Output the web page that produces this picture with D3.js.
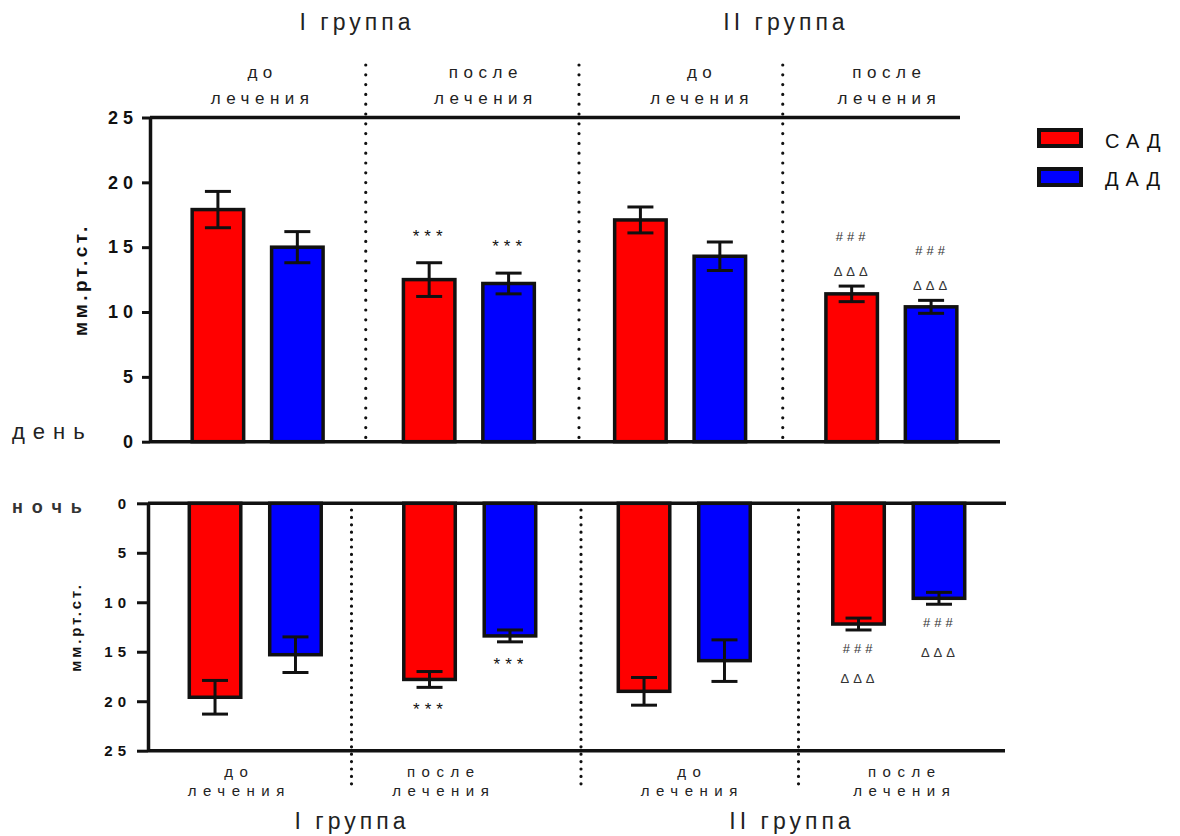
<!DOCTYPE html>
<html>
<head>
<meta charset="utf-8">
<script src="https://cdn.jsdelivr.net/npm/d3@7"></script>
<style>
  html, body { margin: 0; padding: 0; background: #fff; }
  svg { display: block; font-family: "Liberation Sans", Arial, sans-serif; }
</style>
</head>
<body>
<svg id="chart" width="1180" height="836"></svg>
<script>
// ---------------- DATA ----------------
const categoryKeys = ["I-до", "I-после", "II-до", "II-после"];
const categoryLines = [["до", "лечения"], ["после", "лечения"], ["до", "лечения"], ["после", "лечения"]];
const groupTitles = ["I группа", "II группа"];
const series = ["САД", "ДАД"];
const yTicks = [0, 5, 10, 15, 20, 25];
const yTitle = "мм.рт.ст.";
const panelNames = ["день", "ночь"];

// day (top panel)
const daySAD    = [17.9, 12.5, 17.1, 11.4];
const daySADerr = [1.4, 1.3, 1.0, 0.6];
const dayDAD    = [15.0, 12.2, 14.3, 10.4];
const dayDADerr = [1.2, 0.8, 1.1, 0.5];
const daySADsig = [[], ["***"], [], ["###", "ΔΔΔ"]];
const dayDADsig = [[], ["***"], [], ["###", "ΔΔΔ"]];

// night (bottom panel)
const nightSAD    = [19.6, 17.8, 19.0, 12.2];
const nightSADerr = [1.7, 0.8, 1.4, 0.6];
const nightDAD    = [15.3, 13.4, 15.9, 9.6];
const nightDADerr = [1.8, 0.6, 2.1, 0.6];
const nightSADsig = [[], ["***"], [], ["###", "ΔΔΔ"]];
const nightDADsig = [[], ["***"], [], ["###", "ΔΔΔ"]];

// ---------------- LAYOUT ----------------
const colors = { "САД": "#ff0000", "ДАД": "#0000ff" };
const FONT = "'Liberation Sans', Arial, sans-serif";
const svg = d3.select("#chart");

function buildRows(sad, sadErr, dad, dadErr, sadSig, dadSig) {
  const rows = [];
  categoryKeys.forEach((k, i) => {
    rows.push({ cat: k, s: "САД", v: sad[i], e: sadErr[i], sig: sadSig[i] });
    rows.push({ cat: k, s: "ДАД", v: dad[i], e: dadErr[i], sig: dadSig[i] });
  });
  return rows;
}

const panels = [
  {
    rows: buildRows(daySAD, daySADerr, dayDAD, dayDADerr, daySADsig, dayDADsig),
    down: false,
    yRange: [441.7, 117.5],
    xRange: [152, 997],
    axisX: 150,
    baseEnd: 1000, capEnd: 960,
    pairOff: 0.188, barW: 51.5,
    tickSize: 8, tickPad: 4, tickFont: 18, tickSpacing: 5,
    titleX: 80, titleFont: 19, titleSpacing: 3.5,
    dividerDx: [2.5, 4.5, -3], dividerY: [65, 441], dotGap: 9.8,
    labelDx: [5, 17, 22, -2], labelY: [78, 104], labelFont: 17, labelSpacing: 5.5,
    groupY: 30,
    groupX: [357, 786],
    sigOff: { "***": -27, "###": -50, "ΔΔΔ": -15 },
    nameY: 439, nameFont: 22, nameWeight: "normal", nameSpacing: 8
  },
  {
    rows: buildRows(nightSAD, nightSADerr, nightDAD, nightDADerr, nightSADsig, nightDADsig),
    down: true,
    yRange: [503.3, 750.7],
    xRange: [148, 1006],
    axisX: 148,
    baseEnd: 1006, capEnd: 1005,
    pairOff: 0.1875, barW: 51.5,
    tickSize: 11, tickPad: 6, tickFont: 15, tickSpacing: 5,
    titleX: 76, titleFont: 15, titleSpacing: 2.8,
    dividerDx: [-11, 4, 7], dividerY: [510, 788], dotGap: 7.4,
    labelDx: [-16, -26, 8, 6], labelY: [777, 796], labelFont: 15, labelSpacing: 6.5,
    groupY: 829,
    groupX: [352, 792],
    sigOff: { "***": 22, "###": 18, "ΔΔΔ": 48 },
    nameY: 513, nameFont: 18, nameWeight: "bold", nameSpacing: 9
  }
];

panels.forEach(P => {
  const g = svg.append("g");
  const y = d3.scaleLinear().domain([0, 25]).range(P.yRange);
  const x0 = d3.scaleBand().domain(categoryKeys).range(P.xRange);
  const bw = x0.bandwidth();
  const x1 = d3.scalePoint().domain(series).range([-P.pairOff * bw, P.pairOff * bw]);
  const cx = d => x0(d.cat) + bw / 2 + x1(d.s);

  // dotted dividers between categories
  const bounds = categoryKeys.slice(1).map((k, i) => x0(k) + P.dividerDx[i]);
  g.selectAll("line.div").data(bounds).join("line")
    .attr("x1", d => d).attr("x2", d => d)
    .attr("y1", P.dividerY[0]).attr("y2", P.dividerY[1])
    .attr("stroke", "#111").attr("stroke-width", 3.2)
    .attr("stroke-linecap", "round")
    .attr("stroke-dasharray", `0 ${P.dotGap}`);

  // horizontal frame lines
  g.append("line").attr("x1", P.axisX).attr("x2", P.baseEnd)
    .attr("y1", y(0)).attr("y2", y(0)).attr("stroke", "#111").attr("stroke-width", 3.5);
  g.append("line").attr("x1", P.axisX).attr("x2", P.capEnd)
    .attr("y1", y(25)).attr("y2", y(25)).attr("stroke", "#111").attr("stroke-width", 3.5);

  // bars
  g.selectAll("rect.bar").data(P.rows).join("rect")
    .attr("x", d => cx(d) - P.barW / 2)
    .attr("width", P.barW)
    .attr("y", d => P.down ? y(0) : y(d.v))
    .attr("height", d => Math.abs(y(d.v) - y(0)))
    .attr("fill", d => colors[d.s])
    .attr("stroke", "#111").attr("stroke-width", 3.5);

  // error bars
  const eg = g.selectAll("g.err").data(P.rows).join("g");
  eg.append("line")
    .attr("x1", cx).attr("x2", cx)
    .attr("y1", d => y(d.v - d.e)).attr("y2", d => y(d.v + d.e))
    .attr("stroke", "#111").attr("stroke-width", 3);
  [-1, 1].forEach(sg => {
    eg.append("line")
      .attr("x1", d => cx(d) - 13).attr("x2", d => cx(d) + 13)
      .attr("y1", d => y(d.v + sg * d.e)).attr("y2", d => y(d.v + sg * d.e))
      .attr("stroke", "#111").attr("stroke-width", 3);
  });

  // significance marks
  const sigs = [];
  P.rows.forEach(d => d.sig.forEach(sym => sigs.push({ d, sym })));
  g.selectAll("text.sig").data(sigs).join("text")
    .attr("x", o => cx(o.d) + 1)
    .attr("y", o => y(o.d.v + o.d.e) + P.sigOff[o.sym])
    .attr("dy", "0.35em")
    .attr("text-anchor", "middle")
    .attr("font-family", FONT)
    .attr("font-size", o => o.sym === "***" ? 17 : 13)
    .attr("letter-spacing", o => o.sym === "***" ? 5 : 4)
    .attr("fill", o => o.sym === "***" ? "#111" : "#333")
    .text(o => o.sym);

  // y axis
  const axis = d3.axisLeft(y).tickValues(yTicks).tickSize(P.tickSize)
    .tickSizeOuter(0).tickPadding(P.tickPad);
  const ag = g.append("g").attr("transform", `translate(${P.axisX},0)`).call(axis);
  ag.select(".domain").attr("stroke", "#111").attr("stroke-width", 3.5);
  ag.selectAll(".tick line").attr("stroke", "#111").attr("stroke-width", 3);
  ag.selectAll(".tick text")
    .attr("font-family", FONT).attr("font-weight", "bold")
    .attr("font-size", P.tickFont).attr("letter-spacing", P.tickSpacing)
    .attr("fill", "#111");

  // y title
  const ty = (P.yRange[0] + P.yRange[1]) / 2;
  g.append("text")
    .attr("transform", `translate(${P.titleX},${ty}) rotate(-90)`)
    .attr("text-anchor", "middle").attr("dy", "0.35em")
    .attr("font-family", FONT).attr("font-weight", "bold")
    .attr("font-size", P.titleFont).attr("letter-spacing", P.titleSpacing)
    .attr("fill", "#111")
    .text(yTitle);

  // category labels
  categoryKeys.forEach((k, i) => {
    categoryLines[i].forEach((line, j) => {
      g.append("text")
        .attr("x", x0(k) + bw / 2 + P.labelDx[i])
        .attr("y", P.labelY[j])
        .attr("text-anchor", "middle")
        .attr("font-family", FONT)
        .attr("font-size", P.labelFont).attr("letter-spacing", P.labelSpacing)
        .attr("fill", "#222")
        .text(line);
    });
  });

  // group titles
  groupTitles.forEach((t, i) => {
    g.append("text")
      .attr("x", P.groupX[i]).attr("y", P.groupY)
      .attr("text-anchor", "middle")
      .attr("font-family", FONT)
      .attr("font-size", 23).attr("letter-spacing", 4)
      .attr("fill", "#222")
      .text(t);
  });
});

// panel names
svg.append("text").attr("x", 12).attr("y", panels[0].nameY)
  .attr("font-family", FONT).attr("font-size", panels[0].nameFont)
  .attr("letter-spacing", panels[0].nameSpacing).attr("fill", "#222")
  .text(panelNames[0]);
svg.append("text").attr("x", 12).attr("y", panels[1].nameY)
  .attr("font-family", FONT).attr("font-size", panels[1].nameFont)
  .attr("font-weight", panels[1].nameWeight)
  .attr("letter-spacing", panels[1].nameSpacing).attr("fill", "#333")
  .text(panelNames[1]);

// legend
const lg = svg.append("g");
series.forEach((s, i) => {
  lg.append("rect")
    .attr("x", 1039).attr("y", 130 + i * 39)
    .attr("width", 42).attr("height", 16)
    .attr("fill", colors[s]).attr("stroke", "#111").attr("stroke-width", 4);
  lg.append("text")
    .attr("x", 1105).attr("y", 148 + i * 38)
    .attr("font-family", FONT).attr("font-size", 20)
    .attr("letter-spacing", 7).attr("fill", "#111")
    .text(s);
});
</script>
</body>
</html>
